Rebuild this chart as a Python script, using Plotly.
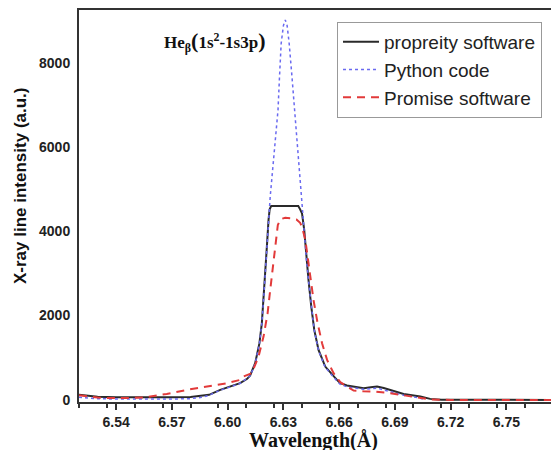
import plotly.graph_objects as go

# --- data ---
wl_prop = [6.520, 6.525, 6.530, 6.540, 6.550, 6.560, 6.570, 6.580, 6.586, 6.590, 6.596,
           6.6014, 6.6067, 6.6105, 6.6121, 6.6148, 6.6171, 6.6184, 6.6193, 6.6202, 6.6211,
           6.6220, 6.6226, 6.6234, 6.6380, 6.6390, 6.6400, 6.6412, 6.6423, 6.6435, 6.6450,
           6.6466, 6.6489, 6.6525, 6.6588, 6.6606, 6.6642, 6.6700, 6.6732, 6.6770, 6.6804,
           6.6840, 6.6876, 6.6947, 6.7037, 6.7090, 6.7150, 6.7740]
int_prop = [120, 90, 75, 65, 60, 55, 60, 70, 90, 120, 237,
            316, 396, 500, 580, 870, 1345, 1820, 2372, 3005, 3637,
            4270, 4520, 4600, 4600, 4520, 4429, 4033, 3400, 2847, 2214,
            1661, 1186, 790, 474, 396, 340, 300, 277, 300, 316,
            280, 237, 142, 79, 24, 5, 0]

wl_py = [6.520, 6.530, 6.540, 6.550, 6.560, 6.570, 6.580, 6.586, 6.590, 6.596,
         6.6014, 6.6067, 6.6121, 6.6148, 6.6171, 6.6184, 6.6193, 6.6202, 6.6211,
         6.6220, 6.6229, 6.6250, 6.6271, 6.6279, 6.6288, 6.6300, 6.6310, 6.6320,
         6.6331, 6.6346, 6.6360, 6.6380, 6.6400, 6.6412, 6.6423, 6.6435, 6.6450,
         6.6466, 6.6489, 6.6525, 6.6588, 6.6606, 6.6642, 6.6732, 6.6804, 6.6876,
         6.6947, 6.7037, 6.7060]
int_py = [60, 30, 20, 15, 15, 20, 30, 60, 110, 230,
          310, 390, 570, 860, 1340, 1820, 2370, 3000, 3640,
          4280, 4823, 5850, 6880, 7670, 8460, 8880, 9015, 8880,
          8460, 7670, 6880, 5850, 4500, 4000, 3380, 2830, 2200,
          1650, 1170, 770, 450, 370, 310, 250, 280, 200,
          110, 40, 0]

wl_prom = [6.520, 6.525, 6.530, 6.535, 6.540, 6.547, 6.555, 6.562, 6.5672, 6.578,
           6.5888, 6.5996, 6.6067, 6.6085, 6.6130, 6.6166, 6.6193, 6.6215, 6.6229,
           6.6244, 6.6256, 6.6270, 6.6285, 6.6310, 6.6340, 6.6370, 6.6390, 6.6400,
           6.6418, 6.6430, 6.6445, 6.6462, 6.6484, 6.6508, 6.6535, 6.6570, 6.6606,
           6.6640, 6.6678, 6.6730, 6.6786, 6.6876, 6.7001, 6.7090, 6.7200, 6.7740]
int_prom = [110, 80, 55, 45, 40, 45, 60, 100, 142, 237,
            316, 396, 474, 553, 633, 1027, 1502, 2057, 2610,
            3163, 3717, 4150, 4290, 4320, 4310, 4280, 4200, 4111,
            3796, 3400, 2925, 2372, 1820, 1345, 949, 633, 420,
            330, 221, 205, 198, 158, 79, 10, 0, 0]

x_ticks = [6.54, 6.57, 6.60, 6.63, 6.66, 6.69, 6.72, 6.75]
y_ticks = [0, 2000, 4000, 6000, 8000]

fig = go.Figure()
fig.add_trace(go.Scatter(x=wl_prop, y=int_prop, mode="lines", name="propreity software",
                         line=dict(color="#2a2a2a", width=2)))
fig.add_trace(go.Scatter(x=wl_py, y=int_py, mode="lines", name="Python code",
                         line=dict(color="#6a6af0", width=1.5, dash="dot")))
fig.add_trace(go.Scatter(x=wl_prom, y=int_prom, mode="lines", name="Promise software",
                         line=dict(color="#e23a3a", width=2, dash="8px,6px")))

tick_font = dict(family="Arial, Liberation Sans", size=14, color="#222", weight="bold")

fig.update_layout(
    width=551, height=450,
    margin=dict(l=79, r=0, t=10, b=48, autoexpand=False),
    paper_bgcolor="white", plot_bgcolor="white",
    showlegend=True,
    legend=dict(x=(337 - 79) / 472, y=(402 - 22) / 392, xanchor="left", yanchor="top",
                bgcolor="rgba(255,255,255,1)", bordercolor="#999", borderwidth=1,
                font=dict(family="Arial, Liberation Sans", size=19, color="#222"),
                tracegroupgap=0, itemwidth=36),
    xaxis=dict(range=[6.52, 6.774], tickvals=x_ticks,
               ticktext=[f"{v:.2f}" for v in x_ticks],
               ticks="outside", ticklen=6, tickwidth=1.5, tickcolor="#333",
               minor=dict(dtick=0.015, tick0=6.52, ticks="outside", ticklen=4,
                          tickcolor="#333", tickwidth=1.5),
               showgrid=False, zeroline=False, automargin=False,
               showline=True, linecolor="#333", linewidth=2, mirror=True,
               tickfont=tick_font),
    yaxis=dict(range=[-50, 9250], tickvals=y_ticks, ticktext=[str(v) for v in y_ticks],
               ticks="", showgrid=False, zeroline=False, automargin=False,
               ticklabelstandoff=4,
               showline=True, linecolor="#333", linewidth=2,
               tickfont=tick_font),
)

# axis titles placed as annotations to match the reference positions
fig.add_annotation(
    xref="paper", yref="paper", x=(313 - 79) / 472, y=(402 - 440) / 392,
    xanchor="center", yanchor="middle", showarrow=False,
    text="<b>Wavelength(Å)</b>",
    font=dict(family="Liberation Serif, Times New Roman", size=20, color="#111"),
)
fig.add_annotation(
    xref="paper", yref="paper", x=(20 - 79) / 472, y=(402 - 186) / 392,
    xanchor="center", yanchor="middle", showarrow=False, textangle=-90,
    text="<b>X-ray line intensity (a.u.)</b>",
    font=dict(family="Arial, Liberation Sans", size=17, color="#111"),
)

fig.add_annotation(
    x=6.5933, y=8500, xref="x", yref="y", showarrow=False,
    text="<b>He<sub>β</sub><span style='font-size:22px'>(</span>1s<sup>2</sup>-1s3p<span style='font-size:22px'>)</span></b>",
    font=dict(family="Liberation Serif, Times New Roman", size=17, color="#111"),
)

fig.write_html("out.html", post_script="document.body.style.margin='0';",
               config={"displayModeBar": False})
